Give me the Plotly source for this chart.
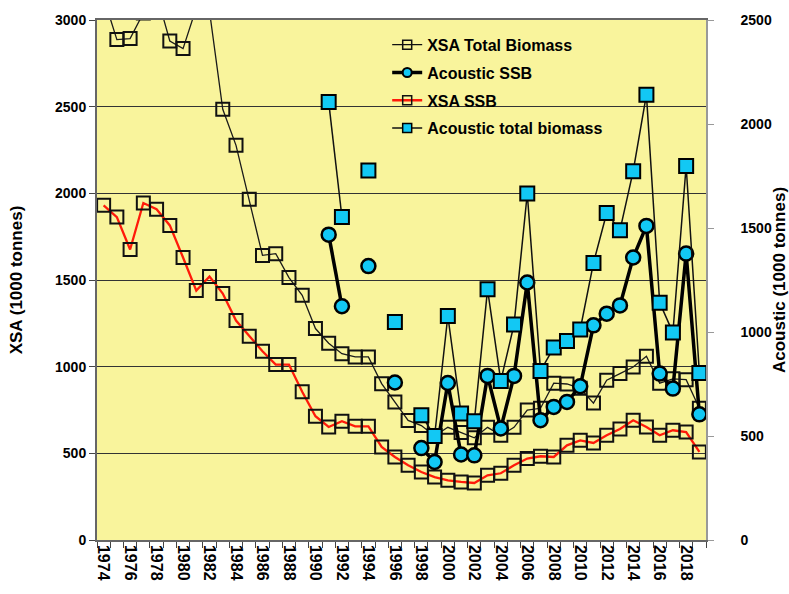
import plotly.graph_objects as go

years = list(range(1974, 2020))
xsa_total = [3130, 2887, 2893, 3040, 3150, 2879, 2835, 3070, 3050, 2485,
             2277, 1966, 1642, 1652, 1514, 1412, 1220, 1135, 1075, 1056,
             1056, 902, 796, 690, 660, 600, 650, 620, 590, 650,
             605, 650, 750, 760, 905, 900, 875, 790, 922, 960,
             998, 1060, 905, 930, 925, 760]
xsa_ssb = [1931, 1863, 1676, 1944, 1908, 1815, 1630, 1439, 1520, 1422,
           1266, 1175, 1089, 1012, 1012, 855, 714, 652, 685, 656,
           656, 537, 479, 431, 392, 363, 344, 335, 329, 373,
           385, 431, 470, 483, 479, 546, 575, 560, 604, 640,
           691, 652, 604, 633, 623, 508]

ac_years = list(range(1991, 2020))
ac_ssb = [1468, 1124, None, 1317, None, 757, None, 442, 375, 755,
          411, 407, 789, 536, 789, 1238, 576, 640, 664, 739,
          1032, 1088, 1128, 1358, 1510, 800, 728, 1377, 604]
ac_total = [2106, 1553, None, 1777, None, 1048, None, 600, 500, 1077,
            608, 571, 1205, 765, 1036, 1666, 813, 925, 957, 1012,
            1332, 1572, 1489, 1773, 2141, 1141, 997, 1798, 803]

tick_years = [y for y in years if y % 2 == 0]
left_ticks = [0, 500, 1000, 1500, 2000, 2500, 3000]
right_ticks = [0, 500, 1000, 1500, 2000, 2500]

FONT = "Arial, Liberation Sans, sans-serif"
BLUE = "#12C8F4"

fig = go.Figure()

fig.add_trace(go.Scatter(x=years, y=xsa_total, mode="lines+markers",
                         line=dict(color="#1a1a1a", width=1.3),
                         marker=dict(symbol="square-open", size=13, color="#111",
                                     line=dict(width=2)),
                         showlegend=False))
fig.add_trace(go.Scatter(x=years, y=xsa_ssb, mode="lines+markers",
                         line=dict(color="#FF1A0A", width=2.3),
                         marker=dict(symbol="square-open", size=13, color="#111",
                                     line=dict(width=2)),
                         showlegend=False))
fig.add_trace(go.Scatter(x=ac_years, y=ac_ssb, mode="lines+markers", yaxis="y2",
                         connectgaps=False,
                         line=dict(color="#000", width=3.5),
                         marker=dict(symbol="circle", size=14, color=BLUE,
                                     line=dict(color="#000", width=2.5)),
                         showlegend=False))
fig.add_trace(go.Scatter(x=ac_years, y=ac_total, mode="lines+markers", yaxis="y2",
                         connectgaps=False,
                         line=dict(color="#111", width=1.5),
                         marker=dict(symbol="square", size=14, color=BLUE,
                                     line=dict(color="#000", width=2)),
                         showlegend=False))

leg = [
    ("XSA Total Biomass", dict(color="#111", width=1.3),
     dict(symbol="square-open", size=9, color="#111", line=dict(width=1.5)), "y"),
    ("Acoustic SSB", dict(color="#000", width=3.5),
     dict(symbol="circle", size=9, color=BLUE, line=dict(color="#000", width=2)), "y2"),
    ("XSA SSB", dict(color="#FF1A0A", width=2.5),
     dict(symbol="square-open", size=9, color="#111", line=dict(width=1.5)), "y"),
    ("Acoustic total biomass", dict(color="#111", width=1.5),
     dict(symbol="square", size=9, color=BLUE, line=dict(color="#000", width=1.5)), "y2"),
]
for i, (name, ln, mk, ax) in enumerate(leg):
    fig.add_trace(go.Scatter(x=[None], y=[None], mode="lines+markers", name=name,
                             line=ln, marker=mk, yaxis=ax, legendgroup=f"g{i}"))

fig.update_layout(
    width=789, height=594,
    margin=dict(l=97, r=83, t=20, b=54, autoexpand=False),
    paper_bgcolor="white",
    plot_bgcolor="#F9F49C",
    font=dict(family=FONT, size=14, color="#000"),
    showlegend=True,
    legend=dict(x=0.4765, y=0.985, xanchor="left", yanchor="top",
                bgcolor="rgba(0,0,0,0)", borderwidth=0,
                font=dict(family=FONT, size=16, color="#000", weight="bold"),
                traceorder="grouped", tracegroupgap=4),
    xaxis=dict(range=[1973.5, 2019.5], tickmode="array", tickvals=tick_years,
               ticktext=[str(y) for y in tick_years], tickangle=90,
               ticks="", showgrid=False, zeroline=False, automargin=False,
               showline=True, linecolor="#666", linewidth=1.5, mirror=True,
               tickfont=dict(family=FONT, size=16, color="#000", weight="bold"),
               minor=dict(tickmode="linear", tick0=1973.5, dtick=1, ticks="outside",
                          ticklen=6, tickcolor="#444", tickwidth=1, showgrid=False)),
    yaxis=dict(range=[0, 3000], tickmode="array", tickvals=left_ticks,
               ticks="outside", ticklen=6, tickcolor="#444", automargin=False,
               showgrid=True, gridcolor="#333", gridwidth=1, zeroline=False,
               showline=True, linecolor="#666", linewidth=2,
               tickfont=dict(family=FONT, size=14, color="#000", weight="bold"),
               title=dict(text="XSA (1000 tonnes)", standoff=28,
                          font=dict(family=FONT, size=17, color="#000", weight="bold"))),
    yaxis2=dict(range=[0, 2500], overlaying="y", side="right", tickmode="array",
                tickvals=right_ticks, ticks="outside", ticklen=6, tickcolor="#999",
                showgrid=False, zeroline=False, showline=True, linecolor="#999",
                linewidth=1.5, ticklabelstandoff=24, automargin=False,
                tickfont=dict(family=FONT, size=14, color="#000", weight="bold"),
                title=dict(text="Acoustic (1000 tonnes)", standoff=19,
                           font=dict(family=FONT, size=17, color="#000", weight="bold"))),
)

fig.write_html("out.html", config={"displayModeBar": False},
               post_script="document.body.style.margin='0';")
